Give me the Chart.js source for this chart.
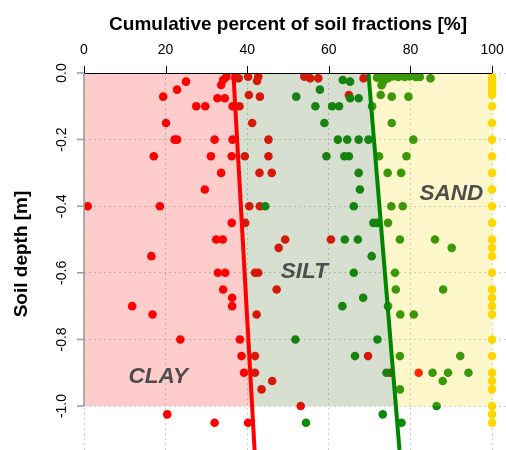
<!DOCTYPE html>
<html>
<head>
<meta charset="utf-8">
<script src="https://cdn.jsdelivr.net/npm/chart.js@4/dist/chart.umd.min.js"></script>
<style>
  html, body { margin: 0; padding: 0; background: #fff; }
  #wrap { width: 506px; height: 450px; }
</style>
</head>
<body>
<div id="wrap"><canvas id="myChart" width="506" height="450"></canvas></div>
<script>
// cumulative clay [%] and sample depth [m]
const clayPct = [0.9, 18.6, 16.5, 25.0, 22.8, 19.4, 27.5, 29.7, 20.1, 22.2, 22.8, 32.0, 36.4, 17.1, 31.1, 36.2, 39.4, 33.6, 29.6, 36.2,
    39.5, 32.4, 34.0, 34.9, 34.1, 33.6, 37.1, 37.9, 40.2, 32.7, 34.5, 36.4, 38.1, 40.4, 40.5, 42.7, 42.4, 54.0, 55.4, 57.4,
    43.1, 41.2, 45.2, 45.2, 43.0, 46.0, 43.1, 49.3, 47.7, 60.5, 64.9, 68.5, 41.9, 42.7, 47.2, 42.3, 41.9, 41.9, 46.1, 43.5,
    53.1, 69.6, 75.1, 82.0, 40.2, 32.8, 34.6, 34.1, 36.3, 36.3, 11.8, 16.8, 23.6, 38.2, 38.6, 39.2, 20.4, 32.0];
const clayDepth = [-0.40, -0.40, -0.55, -0.026, -0.05, -0.071, -0.10, -0.10, -0.15, -0.20, -0.20, -0.20, -0.20, -0.25, -0.25, -0.25, -0.25, -0.30, -0.35, -0.45,
    -0.45, -0.50, -0.50, -0.011, -0.021, -0.036, -0.016, -0.016, -0.011, -0.076, -0.076, -0.10, -0.10, -0.066, -0.40, -0.011, -0.024, -0.011, -0.016, -0.016,
    -0.071, -0.15, -0.20, -0.25, -0.30, -0.30, -0.40, -0.50, -0.525, -0.50, -0.066, -0.016, -0.60, -0.60, -0.65, -0.725, -0.85, -0.90, -0.925, -0.95,
    -1.0, -0.85, -0.90, -0.90, -1.05, -0.60, -0.60, -0.65, -0.675, -0.70, -0.70, -0.725, -0.80, -0.80, -0.85, -0.90, -1.025, -1.05];

// cumulative clay + silt [%]
const siltPct = [63.4, 65.2, 57.8, 52.0, 65.2, 67.3, 56.7, 60.8, 62.5, 58.9, 71.8, 73.3, 74.5, 75.7, 77.0, 78.6, 79.8, 81.3, 82.3, 84.9,
    72.9, 73.3, 70.6, 72.7, 75.4, 79.5, 62.2, 64.5, 67.3, 69.7, 80.7, 75.4, 59.4, 63.8, 64.9, 72.3, 79.0, 67.3, 74.4, 77.7,
    67.6, 44.4, 66.1, 75.3, 78.1, 70.9, 71.8, 74.5, 63.9, 67.1, 77.4, 86.0, 90.1, 70.5, 66.1, 76.2, 76.4, 88.0, 68.4, 63.3,
    74.5, 77.5, 80.8, 51.8, 71.9, 66.4, 77.4, 92.2, 74.1, 85.4, 89.2, 94.2, 87.9, 77.4, 86.4, 73.2, 54.4, 77.8];
const siltDepth = [-0.021, -0.026, -0.05, -0.071, -0.076, -0.076, -0.10, -0.10, -0.10, -0.15, -0.014, -0.012, -0.016, -0.010, -0.012, -0.012, -0.010, -0.012, -0.012, -0.016,
    -0.037, -0.026, -0.10, -0.066, -0.071, -0.071, -0.20, -0.20, -0.20, -0.20, -0.20, -0.15, -0.25, -0.25, -0.25, -0.25, -0.25, -0.30, -0.30, -0.30,
    -0.35, -0.40, -0.40, -0.40, -0.40, -0.45, -0.45, -0.45, -0.50, -0.50, -0.50, -0.50, -0.525, -0.55, -0.60, -0.60, -0.65, -0.65, -0.675, -0.70,
    -0.70, -0.725, -0.725, -0.80, -0.80, -0.85, -0.85, -0.85, -0.90, -0.90, -0.90, -0.90, -0.925, -0.95, -1.0, -1.025, -1.05, -1.05];

// sand closes every sample at 100 %
const sandDepth = [-0.012, -0.02, -0.03, -0.04, -0.05, -0.065, -0.10, -0.15, -0.20, -0.25, -0.30, -0.35, -0.40, -0.45, -0.50, -0.525, -0.55,
    -0.60, -0.65, -0.675, -0.70, -0.725, -0.80, -0.85, -0.90, -0.925, -0.95, -1.0, -1.025, -1.05];

// fitted boundaries, read at depth 0, -1.0 and the bottom of the plot
const boundaryDepth = [0, -1.0, -1.132];
const clayLine = [36.6, 41.2, 41.8];
const siltLine = [69.7, 76.4, 77.3];

const xTicks = [0, 20, 40, 60, 80, 100];
const yTicks = [0, -0.2, -0.4, -0.6, -0.8, -1.0];
const zoneLabels = ["CLAY", "SILT", "SAND"];

const FONT = '"Liberation Sans", Arial, Helvetica, sans-serif';
const pts = (xs, ys) => xs.map((v, i) => ({ x: v, y: ys[i] }));

const decor = {
    id: "decor",
    afterDraw(chart) {
        const { ctx, scales: { x, y } } = chart;
        ctx.save();
        // top axis
        ctx.strokeStyle = "#000";
        ctx.lineWidth = 1;
        ctx.beginPath();
        ctx.moveTo(x.getPixelForValue(0), y.top + 0.5);
        ctx.lineTo(x.getPixelForValue(100), y.top + 0.5);
        xTicks.forEach(v => {
            const px = Math.round(x.getPixelForValue(v)) + 0.5;
            ctx.moveTo(px, y.top);
            ctx.lineTo(px, y.top - 7);
        });
        ctx.stroke();
        // left axis
        ctx.strokeStyle = "#999";
        ctx.lineWidth = 1.5;
        ctx.beginPath();
        const lx = x.getPixelForValue(0);
        ctx.moveTo(lx, y.getPixelForValue(0));
        ctx.lineTo(lx, y.getPixelForValue(-1));
        yTicks.forEach(v => {
            const py = y.getPixelForValue(v);
            ctx.moveTo(lx, py);
            ctx.lineTo(lx - 7, py);
        });
        ctx.stroke();

        ctx.fillStyle = "#000";
        ctx.font = "14px " + FONT;
        ctx.textAlign = "center";
        ctx.textBaseline = "alphabetic";
        yTicks.forEach(v => {
            ctx.save();
            ctx.translate(66, y.getPixelForValue(v));
            ctx.rotate(-Math.PI / 2);
            ctx.fillText(v.toFixed(1), 0, 0);
            ctx.restore();
        });

        ctx.font = "bold 19px " + FONT;
        ctx.fillText("Cumulative percent of soil fractions [%]", x.getPixelForValue(50), 30);
        ctx.save();
        ctx.translate(27, 254);
        ctx.rotate(-Math.PI / 2);
        ctx.fillText("Soil depth [m]", 0, 0);
        ctx.restore();

        // zone names
        ctx.fillStyle = "#4d4d4d";
        ctx.font = "italic bold 22.5px " + FONT;
        const where = [[18.2, -0.930], [54.0, -0.6165], [90.0, -0.381]];
        zoneLabels.forEach((t, i) => {
            ctx.fillText(t, x.getPixelForValue(where[i][0]), y.getPixelForValue(where[i][1]));
        });
        ctx.restore();
    }
};

const fillZone = (poly, color) => ({
    type: "line",
    data: poly,
    showLine: true,
    fill: "shape",
    backgroundColor: color,
    borderWidth: 0,
    pointRadius: 0,
    order: 1
});

const noPad = s => { s.paddingLeft = 0; s.paddingRight = 0; s.paddingTop = 0; s.paddingBottom = 0; };

const ctx = document.getElementById("myChart").getContext("2d");
new Chart(ctx, {
    type: "scatter",
    data: {
        datasets: [
            { data: pts(clayPct, clayDepth), backgroundColor: "#ff0000", pointRadius: 4.3, borderWidth: 0, order: 4 },
            { data: pts(siltPct, siltDepth), backgroundColor: "rgb(10,138,10)", pointRadius: 4.3, borderWidth: 0, order: 3 },
            { data: sandDepth.map(d => ({ x: 100, y: d })), backgroundColor: "#ffd700", pointRadius: 4.3, borderWidth: 0, order: 2 },
            fillZone([{ x: 0, y: boundaryDepth[0] }, { x: clayLine[0], y: boundaryDepth[0] },
                      { x: clayLine[1], y: boundaryDepth[1] }, { x: 0, y: boundaryDepth[1] }], "rgba(255,0,0,0.2)"),
            fillZone([{ x: clayLine[0], y: boundaryDepth[0] }, { x: siltLine[0], y: boundaryDepth[0] },
                      { x: siltLine[1], y: boundaryDepth[1] }, { x: clayLine[1], y: boundaryDepth[1] }], "rgba(70,110,40,0.22)"),
            fillZone([{ x: siltLine[0], y: boundaryDepth[0] }, { x: 100, y: boundaryDepth[0] },
                      { x: 100, y: boundaryDepth[1] }, { x: siltLine[1], y: boundaryDepth[1] }], "rgba(255,215,0,0.2)"),
            { type: "line", data: [{ x: clayLine[0], y: boundaryDepth[0] }, { x: clayLine[2], y: boundaryDepth[2] }],
              showLine: true, borderColor: "#ff0000", borderWidth: 4, pointRadius: 0, fill: false, order: 0 },
            { type: "line", data: [{ x: siltLine[0], y: boundaryDepth[0] }, { x: siltLine[2], y: boundaryDepth[2] }],
              showLine: true, borderColor: "rgb(0,135,0)", borderWidth: 4, pointRadius: 0, fill: false, order: 0 }
        ]
    },
    options: {
        responsive: false,
        animation: false,
        devicePixelRatio: 1,
        layout: { padding: 0, autoPadding: false },
        plugins: { legend: { display: false }, tooltip: { enabled: false } },
        scales: {
            x: {
                type: "linear",
                position: "top",
                min: 0,
                max: 103.4,
                afterBuildTicks: s => { s.ticks = xTicks.map(v => ({ value: v })); },
                afterFit: s => { s.height = 73; noPad(s); },
                grid: { color: "#cfcfcf", lineWidth: 1, drawTicks: false },
                border: { display: false, dash: [2, 3] },
                ticks: { padding: 14, color: "#000", font: { size: 14, family: FONT } }
            },
            y: {
                type: "linear",
                min: -1.132,
                max: 0,
                afterBuildTicks: s => { s.ticks = yTicks.map(v => ({ value: v })); },
                afterFit: s => { s.width = 84; noPad(s); },
                grid: { color: "#cfcfcf", lineWidth: 1, drawTicks: false },
                border: { display: false, dash: [2, 3] },
                ticks: { display: false }
            }
        }
    },
    plugins: [decor]
});
</script>
</body>
</html>
